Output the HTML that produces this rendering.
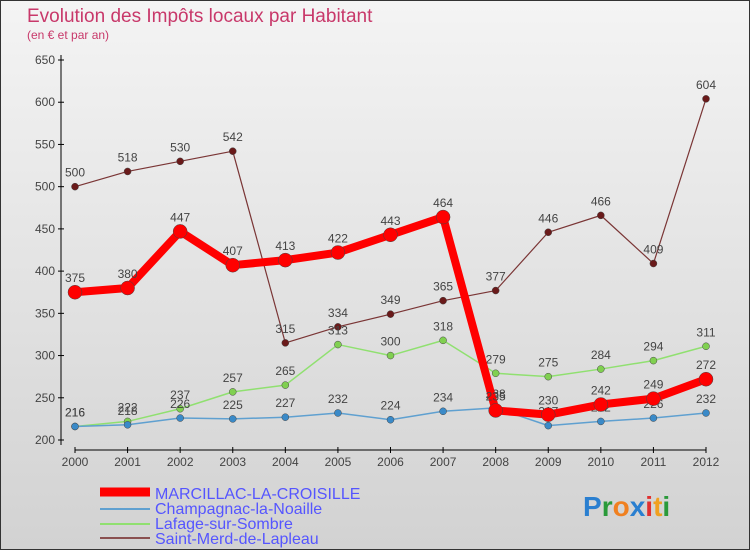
<!DOCTYPE html>
<html><head><meta charset="utf-8"><style>
body{margin:0;width:750px;height:550px;overflow:hidden;font-family:"Liberation Sans",sans-serif}
svg text{font-family:"Liberation Sans",sans-serif}
</style></head><body>
<svg id="c" width="750" height="550" xmlns="http://www.w3.org/2000/svg">
<defs><linearGradient id="bg" x1="0" y1="0" x2="0" y2="1"><stop offset="0" stop-color="#f4f4f4"/><stop offset="1" stop-color="#d2d2d2"/></linearGradient></defs>
<rect x="0.5" y="0.5" width="749" height="549" fill="url(#bg)" stroke="#333"/>
<text x="27" y="22" font-size="19" fill="#c8386a">Evolution des Impôts locaux par Habitant</text>
<text x="27" y="39" font-size="12" fill="#c8386a">(en € et par an)</text>
<g id="axes"></g><g id="series"></g>
<g>
<line x1="100" y1="492" x2="150" y2="492" stroke="#f00" stroke-width="9"/>
<text x="155" y="499" font-size="16" fill="#5555ff">MARCILLAC-LA-CROISILLE</text>
<line x1="100" y1="509" x2="150" y2="509" stroke="#5fa0d0" stroke-width="2"/>
<text x="155" y="514" font-size="16" fill="#5555ff">Champagnac-la-Noaille</text>
<line x1="100" y1="524" x2="150" y2="524" stroke="#90e070" stroke-width="2"/>
<text x="155" y="529" font-size="16" fill="#5555ff">Lafage-sur-Sombre</text>
<line x1="100" y1="538" x2="150" y2="538" stroke="#8a5050" stroke-width="2"/>
<text x="155" y="544" font-size="16" fill="#5555ff">Saint-Merd-de-Lapleau</text>
</g>
<text x="583" y="516" font-size="28" font-weight="bold"><tspan fill="#2a7fd0">P</tspan><tspan fill="#2a9a3a">r</tspan><tspan fill="#f08020">o</tspan><tspan fill="#2a7fd0">x</tspan><tspan fill="#e03030">i</tspan><tspan fill="#f0a020">t</tspan><tspan fill="#2a9a3a">i</tspan></text>
</svg>
<script>
const years=["2000","2001","2002","2003","2004","2005","2006","2007","2008","2009","2010","2011","2012"];
const yTicks=[200,250,300,350,400,450,500,550,600,650];
const marcillac=[375,380,447,407,413,422,443,464,235,230,242,249,272];
const champagnac=[216,218,226,225,227,232,224,234,238,217,222,226,232];
const lafage=[216,222,237,257,265,313,300,318,279,275,284,294,311];
const saintMerd=[500,518,530,542,315,334,349,365,377,446,466,409,604];
const NS="http://www.w3.org/2000/svg";
const x=i=>75+i*(631/12);
const y=v=>440-(v-200)*(380/450);
function mk(t,a,p){const e=document.createElementNS(NS,t);for(const k in a)e.setAttribute(k,a[k]);p.appendChild(e);return e;}
const ax=document.getElementById('axes');
const yl=mk('line',{x1:61,y1:55,x2:61,y2:445,stroke:'#000'},ax);


const xl=mk('line',{x1:75,y1:450,x2:706,y2:450,stroke:'#000'},ax);


yTicks.forEach(v=>{mk('line',{x1:58,y1:y(v),x2:64,y2:y(v),stroke:'#000'},ax);
const t=mk('text',{x:55,y:y(v)+4,'font-size':12,'text-anchor':'end',fill:'#444'},ax);t.textContent=v;

});
years.forEach((yr,i)=>{mk('line',{x1:x(i),y1:447,x2:x(i),y2:453,stroke:'#000'},ax);
const t=mk('text',{x:x(i),y:466,'font-size':12,'text-anchor':'middle',fill:'#444'},ax);t.textContent=yr;

});
const sg=document.getElementById('series');
function draw(vals,name,color,w,r,dot){
const g=mk('g',{},sg);


const l=mk('polyline',{points:vals.map((v,i)=>x(i)+','+y(v)).join(' '),fill:'none',stroke:color,'stroke-width':w,'stroke-linejoin':'round'},g);


vals.forEach((v,i)=>{const c=mk('circle',{cx:x(i),cy:y(v),r:r,fill:dot,stroke:'#444','stroke-width':0.5},g);


const t=mk('text',{x:x(i),y:y(v)-10,'font-size':12,'text-anchor':'middle',fill:'#444'},g);t.textContent=v;

});}
draw(saintMerd,'saint-merd','#7a3535',1.2,3.5,'#6a1a1a');
draw(lafage,'lafage','#90e070',1.5,3.5,'#80d050');
draw(champagnac,'champagnac','#5fa0d0',1.5,3.5,'#3a8ac8');
draw(marcillac,'marcillac','#f00',8,7,'#f00');
</script>
</body></html>
